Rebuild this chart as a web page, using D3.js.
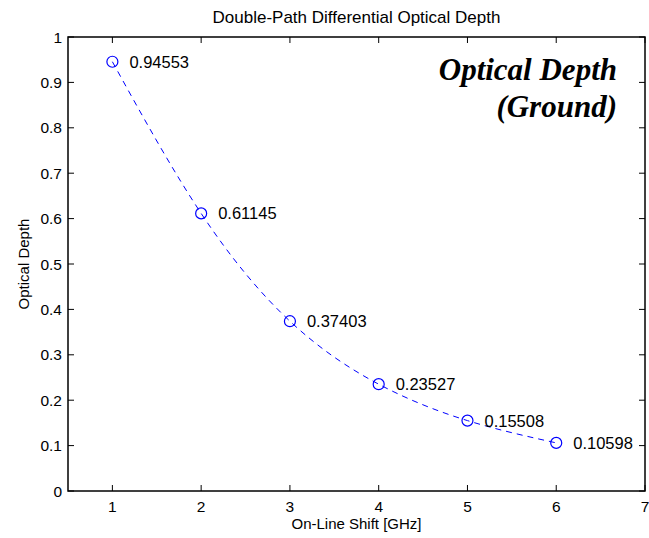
<!DOCTYPE html>
<html>
<head>
<meta charset="utf-8">
<script src="https://cdn.jsdelivr.net/npm/d3@7"></script>
<style>
  body { margin: 0; background: #fff; }
  text { font-family: Arial, "Liberation Sans", sans-serif; }
</style>
</head>
<body>
<div id="chart"></div>
<script>
var shifts = [1, 2, 3, 4, 5, 6];
var depths = [0.94553, 0.61145, 0.37403, 0.23527, 0.15508, 0.10598];
var labels = ["0.94553", "0.61145", "0.37403", "0.23527", "0.15508", "0.10598"];
var xTicks = [1, 2, 3, 4, 5, 6, 7];
var yTicks = [0, 0.1, 0.2, 0.3, 0.4, 0.5, 0.6, 0.7, 0.8, 0.9, 1];

var width = 649, height = 538;
var plotLeft = 68, plotRight = 645, plotTop = 37, plotBottom = 491;
var lineColor = "#0000ff";

var svg = d3.select("#chart").append("svg")
    .attr("width", width)
    .attr("height", height);

var x = d3.scaleLinear().domain([0.5, 7]).range([plotLeft, plotRight]);
var y = d3.scaleLinear().domain([0, 1]).range([plotBottom, plotTop]);

// frame
svg.append("rect")
    .attr("x", plotLeft).attr("y", plotTop)
    .attr("width", plotRight - plotLeft).attr("height", plotBottom - plotTop)
    .style("fill", "none").style("stroke", "#000").style("stroke-width", "1.5px");

// ticks, inward, mirrored on all sides
xTicks.forEach(function (t) {
    svg.append("line").attr("x1", x(t)).attr("x2", x(t))
        .attr("y1", plotBottom).attr("y2", plotBottom - 6).style("stroke", "#000");
    svg.append("line").attr("x1", x(t)).attr("x2", x(t))
        .attr("y1", plotTop).attr("y2", plotTop + 6).style("stroke", "#000");
    svg.append("text").attr("x", x(t)).attr("y", plotBottom + 21)
        .attr("text-anchor", "middle").style("font-size", "15.5px").text(t);
});
yTicks.forEach(function (t) {
    svg.append("line").attr("x1", plotLeft).attr("x2", plotLeft + 6)
        .attr("y1", y(t)).attr("y2", y(t)).style("stroke", "#000");
    svg.append("line").attr("x1", plotRight).attr("x2", plotRight - 6)
        .attr("y1", y(t)).attr("y2", y(t)).style("stroke", "#000");
    svg.append("text").attr("x", plotLeft - 6).attr("y", y(t) + 5.5)
        .attr("text-anchor", "end").style("font-size", "15.5px").text(t);
});

// titles
svg.append("text").attr("x", (plotLeft + plotRight) / 2).attr("y", 23)
    .attr("text-anchor", "middle").style("font-size", "17px")
    .text("Double-Path Differential Optical Depth");
svg.append("text").attr("x", (plotLeft + plotRight) / 2).attr("y", 529)
    .attr("text-anchor", "middle").style("font-size", "15px")
    .text("On-Line Shift [GHz]");
svg.append("text")
    .attr("transform", "translate(29," + (plotTop + plotBottom) / 2 + ") rotate(-90)")
    .attr("text-anchor", "middle").style("font-size", "15px")
    .text("Optical Depth");

// dashed curve
var pts = shifts.map(function (s, i) { return [s, depths[i]]; });
svg.append("path")
    .datum(pts)
    .attr("d", d3.line().x(function (d) { return x(d[0]); })
        .y(function (d) { return y(d[1]); }).curve(d3.curveNatural))
    .style("fill", "none").style("stroke", lineColor)
    .style("stroke-width", "1px").style("stroke-dasharray", "6,5");

// markers and value labels
pts.forEach(function (d, i) {
    svg.append("circle").attr("cx", x(d[0])).attr("cy", y(d[1])).attr("r", 5.5)
        .style("fill", "none").style("stroke", lineColor).style("stroke-width", "1.2px");
    svg.append("text").attr("x", x(d[0]) + 17).attr("y", y(d[1]) + 6)
        .style("font-size", "16.5px").text(labels[i]);
});

// annotation
var note = svg.append("text").attr("text-anchor", "end")
    .style("font-family", "'Liberation Serif', 'Times New Roman', serif")
    .style("font-weight", "bold").style("font-style", "italic")
    .style("font-size", "31px");
note.append("tspan").attr("x", 617).attr("y", 80).text("Optical Depth");
note.append("tspan").attr("x", 617).attr("y", 117).text("(Ground)");
</script>
</body>
</html>
